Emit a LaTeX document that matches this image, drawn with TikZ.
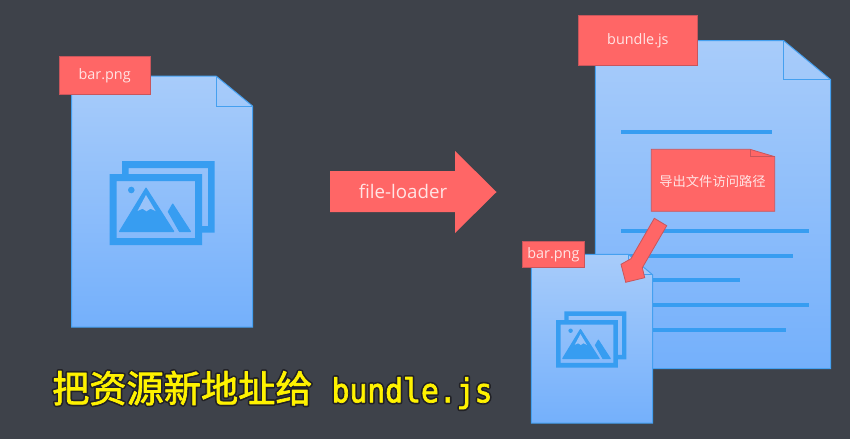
\documentclass[tikz,border=0pt]{standalone}
\usepackage{fontspec}
\usetikzlibrary{calc}
\setmainfont{Open Sans}
\newfontfamily\cjk{Noto Sans CJK SC}
\newfontfamily\monof[FakeStretch=0.9]{DejaVu Sans Mono}
\definecolor{bgc}{HTML}{3E424A}
\definecolor{salmon}{HTML}{FF6666}
\definecolor{salmonline}{HTML}{C8565C}
\definecolor{docline}{HTML}{45A0F0}
\definecolor{icon}{HTML}{379DF1}
\definecolor{doctop}{HTML}{A8CCFA}
\definecolor{docbot}{HTML}{74B0FB}
\definecolor{snow}{HTML}{99C3F9}
\definecolor{labeltxt}{HTML}{FFE4E4}
\definecolor{capt}{HTML}{FFF200}
\newcommand{\captiontext}{\cjk\fontsize{37.2}{38}\selectfont 把资源新地址给\hspace{19pt}{\monof\fontsize{33}{34}\selectfont bundle.js}}
\tikzset{
  docbody/.style={draw=docline,line width=1pt,top color=doctop,bottom color=docbot,middle color=doctop!50!docbot},
  foldline/.style={draw=docline,line width=1pt},
  tagbox/.style={draw=salmonline,line width=0.8pt,fill=salmon,text=labeltxt,inner sep=0pt,anchor=north west,font=\fontsize{14.4}{16}\selectfont},
  redshape/.style={draw=salmonline,line width=0.8pt,fill=salmon},
  textline/.style={draw=icon,line width=4pt},
  imageicon/.pic={
    \fill[icon] (12.5,0) -- (12.5,-13) -- (105.2,-13) -- (105.2,58.7) -- (92.5,58.7) -- (92.5,52) -- (98.5,52) -- (98.5,-6) -- (19,-6) -- (19,0) -- cycle;
    \fill[icon,even odd rule] (0,0) rectangle (92.5,71) (7,7) rectangle (85.5,64);
    \fill[icon] (21.8,16) circle[radius=3.3];
    \filldraw[icon,line width=1pt,line join=round] (36.5,14) -- (10,57.5) -- (64.3,57.5) -- cycle;
    \filldraw[icon,line width=1pt,line join=round] (63.2,30) -- (81,57.5) -- (70,57.5) -- (58.8,37.7) -- cycle;
    \fill[snow] (36.5,21) -- (28,37) -- (33,34.7) -- (37,37.3) -- (41,34.7) -- (46,37) -- cycle;
  }
}
\begin{document}
\begin{tikzpicture}[x=1pt,y=-1pt]
\useasboundingbox (0,0) rectangle (850,439);
\fill[bgc] (0,0) rectangle (850,439);

% left document
\path[docbody] (71.5,76) -- (216,76) -- (252.5,106) -- (252.5,327) -- (71.5,327) -- cycle;
\draw[foldline] (216,76) -- (216,106) -- (252.5,106);
\pic at (109.5,174) {imageicon};
\node[tagbox,minimum width=91pt,minimum height=38.3pt] (tagleft) at (58.7,56) {bar.png};

% file-loader arrow
\path[redshape,draw=none] (330,171) -- (455,171) -- (455,151) -- (496.5,192) -- (455,233) -- (455,212) -- (330,212) -- cycle;
\node[text=labeltxt,inner sep=0pt,font=\fontsize{18.7}{20}\selectfont] (loader) at (403,191.5) {file-loader};

% right document
\path[docbody] (595.3,40.7) -- (783.7,40.7) -- (830.7,79.7) -- (830.7,368.7) -- (595.3,368.7) -- cycle;
\draw[foldline] (783.7,40.7) -- (783.7,79.7) -- (830.7,79.7);
\draw[textline] (621,132) -- (772,132);
\draw[textline] (621,231) -- (809,231);
\draw[textline] (621,255.7) -- (793,255.7);
\draw[textline] (621,280) -- (740,280);
\draw[textline] (621,304.7) -- (809,304.7);
\draw[textline] (621,329.5) -- (786,329.5);
\node[tagbox,minimum width=118.4pt,minimum height=49.4pt] (tagbundle) at (578.3,15.3) {bundle.js};

% note
\path[redshape] (651.3,149.3) -- (750,149.3) -- (774.7,156.7) -- (774.7,211.3) -- (651.3,211.3) -- cycle;
\draw[salmonline,line width=0.8pt] (750,149.3) -- (750,156.7) -- (774.7,156.7);
\node[text=labeltxt,inner sep=0pt,font=\cjk\fontsize{13.3}{14}\selectfont] (notetext) at (712.5,181) {导出文件访问路径};

% small document
\path[docbody] (531.3,254.3) -- (628.3,254.3) -- (652.5,274.7) -- (652.5,423) -- (531.3,423) -- cycle;
\draw[foldline] (628.3,254.3) -- (628.3,274.7) -- (652.5,274.7);
\pic[scale=.67] at (556,320) {imageicon};
\node[tagbox,minimum width=61.4pt,minimum height=26pt] (tagsmall) at (522.3,241) {bar.png};

% pointer arrow
\coordinate (ptip) at (625.7,282.3);
\path[redshape] (654.3,218.3) -- (666.7,225.7) -- (642.3,267.7) -- (644.7,277.7) -- (ptip) -- (621,264.3) -- (631,258.7) -- cycle;

% caption
\node[anchor=west,inner sep=0pt,text=capt] (caption) at (52,390) {%
  \rlap{\special{pdf:code 1 Tr 4 w 1 j 1 J 0.13 0.13 0.15 RG}\captiontext\special{pdf:code 0 Tr}}%
  \special{pdf:code 2 Tr 0.7 w 1 j 1 J 1 0.95 0 RG}\captiontext\special{pdf:code 0 Tr}};
\end{tikzpicture}
\end{document}
